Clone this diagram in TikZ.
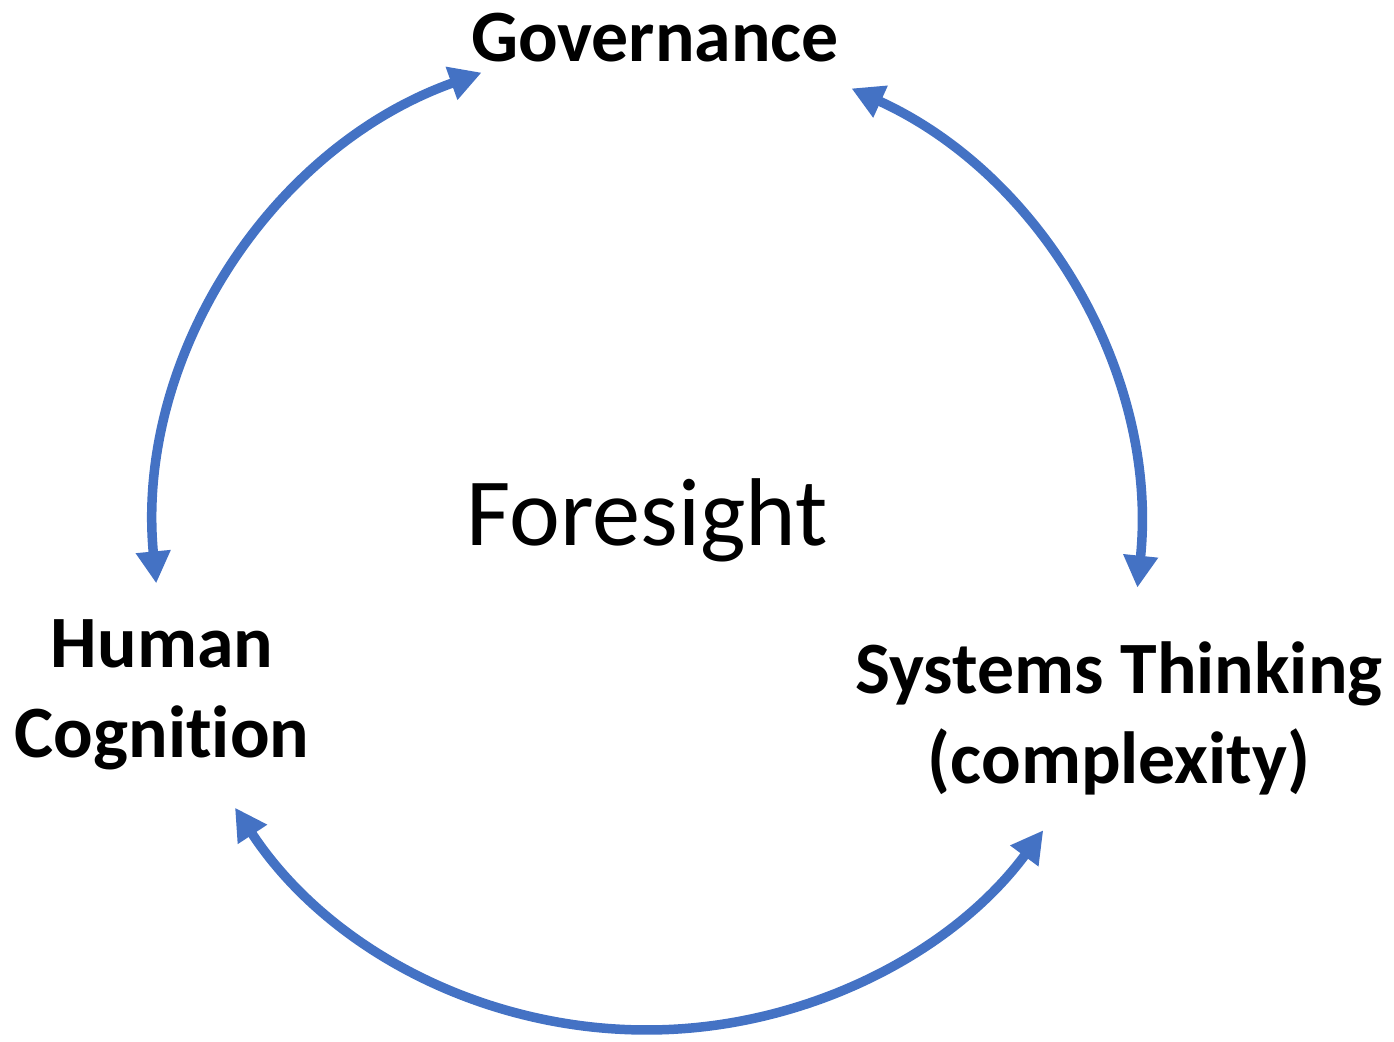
\documentclass[tikz,border=0pt]{standalone}
\usepackage{fontspec}
\setmainfont{Carlito}[RawFeature=-liga]
\usetikzlibrary{arrows.meta}
\definecolor{loopblue}{HTML}{4472C4}
\tikzset{
  label/.style={font=\bfseries\fontsize{21}{25.6}\selectfont, align=center, inner sep=0pt},
  loop/.style={loopblue, line width=2.7pt, {Triangle[length=3.2mm,width=3.3mm]}-{Triangle[length=3.2mm,width=3.3mm]}}
}
\begin{document}
\begin{tikzpicture}
		\useasboundingbox (0,0) rectangle (13.94,10.41);
		\coordinate (c) at (6.47,5.04);
		\node[label] (gov) at (6.55,10.03) {Governance};
		\node[label] (hum) at (1.62,3.46) {Human\\Cognition};
		\node[label] (sys) at (11.19,3.23) {Systems Thinking\\(complexity)};
		\node[font=\fontsize{27.4}{33}\selectfont, inner sep=0pt] (fore) at (6.47,5.21) {Foresight};
		% arcs round the centre
		\draw[loop] ([shift={(185.4:4.93)}]c) arc[start angle=185.4, end angle=109.6, radius=4.93];
		\draw[loop] ([shift={(65.5:4.93)}]c) arc[start angle=65.5, end angle=-5.9, radius=4.93];
		\draw[loop] ([shift={(213.3:4.93)}]c) arc[start angle=213.3, end angle=323.5, radius=4.93];
	\end{tikzpicture}
\end{document}
